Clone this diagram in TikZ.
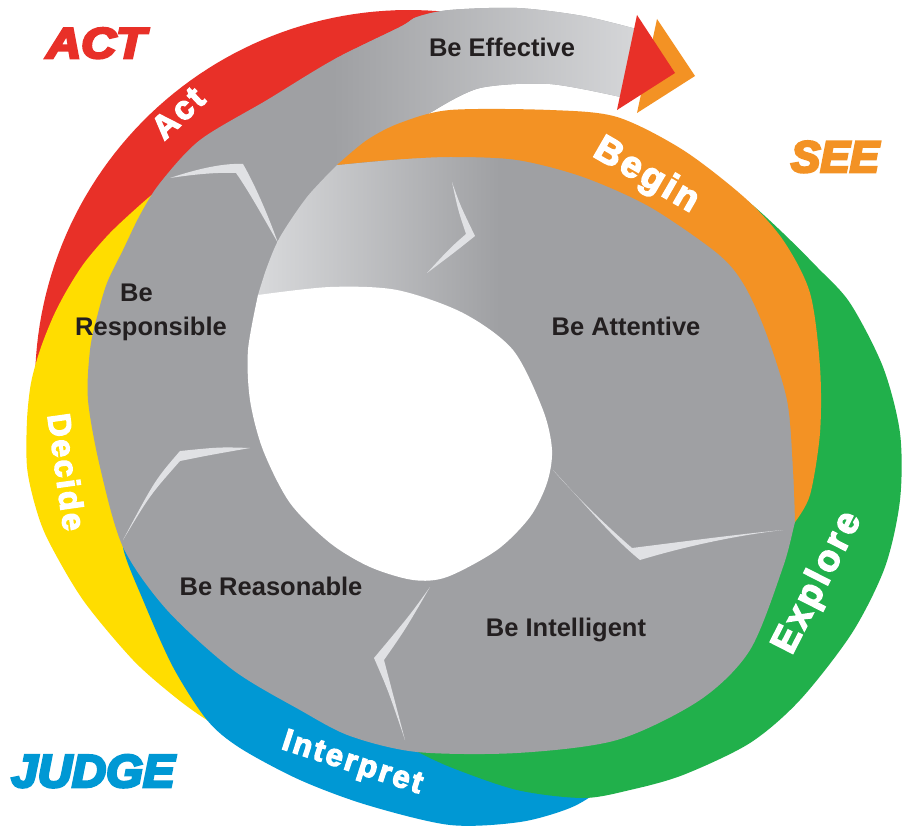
\documentclass[tikz,border=0pt]{standalone}
\usepackage{fontspec}
\usepackage{graphicx}
\setmainfont{Liberation Sans}
\newfontfamily\heavyfont[FakeBold=4,LetterSpace=8]{Liberation Sans Bold}
\newfontfamily\titlefont[FakeBold=6]{Liberation Sans Bold Italic}
\newfontfamily\lblfont{Liberation Sans Bold}
\definecolor{cred}{RGB}{232,48,40}
\definecolor{corange}{RGB}{243,146,36}
\definecolor{cyellow}{RGB}{255,221,0}
\definecolor{cgreen}{RGB}{33,176,75}
\definecolor{cblue}{RGB}{0,152,212}
\definecolor{cgray}{RGB}{159,160,163}
\definecolor{clight}{RGB}{228,229,231}
\definecolor{cmid}{RGB}{200,201,204}
\definecolor{ctail}{RGB}{216,217,219}
\definecolor{ctext}{RGB}{35,31,32}
\definecolor{cswoosh}{RGB}{224,225,228}
\tikzset{
  lbl/.style={text=ctext, font=\lblfont\fontsize{25.5}{30}\selectfont, inner sep=0pt},
  band/.style={text=white, font=\heavyfont\fontsize{#1}{#1}\selectfont, inner sep=0pt},
  ttl/.style={font=\titlefont\fontsize{#1}{#1}\selectfont, inner sep=0pt},
  swoosh/.style={fill=cswoosh},
}
\def\blobpath{plot[smooth] coordinates {(337,165) (400,144) (450,133) (545,137) (608,150) (672,182) (731,226) (763,262) (788,312) (803,383) (806,447) (802,497) (795,522) (783,567) (750,650) (700,700) (617,740) (517,753) (417,752) (350,736) (300,710) (233,670) (167,610) (123,547) (100,467) (88,400) (90,350) (97,317) (107,283) (123,250) (140,215) (160,183) (200,140) (267,100) (333,60) (400,27) (417,17) (450,10) (517,8) (583,16) (640,30)} -- (625,98) -- plot[smooth] coordinates {(625,98) (550,84) (480,88) (435,110)} -- cycle}
\begin{document}
\begin{tikzpicture}[x=1pt,y=-1pt]
\useasboundingbox (0,0) rectangle (905,834);
\fill[white] (0,0) rectangle (905,834);
% red band (Act)
\fill[cred] plot[domain=181:276, samples=60, variable=\t] ({409+374*cos(\t)}, {384+374*sin(\t)}) -- (300,150) -- (150,300) -- cycle;
% yellow band (Decide)
\fill[cyellow] plot[smooth] coordinates {(175,175) (140,205) (110,233) (85,262) (67,290) (53,317) (40,350) (31,383) (27,420) (27,467) (35,505) (48,540) (83,600) (133,660) (175,697) (207,720) (240,737)} -- (200,680) -- (150,450) -- (170,250) -- cycle;
% blue band (Interpret)
\fill[cblue] plot[smooth] coordinates {(130,515) (123,547) (143,600) (173,667) (207,720) (240,748) (300,780) (367,805) (450,825) (520,822) (570,808) (600,790) (620,770)} -- (450,700) -- (220,580) -- cycle;
% green band (Explore)
\fill[cgreen] plot[smooth] coordinates {(720,182) (750,203) (783,233) (817,267) (850,303) (883,367) (900,433) (900,500) (885,567) (852,633) (800,700) (750,743) (683,775) (630,790) (583,798) (517,790) (450,767) (410,748)} -- (500,600) -- (700,350) -- cycle;
% gray spiral
\fill[cgray] \blobpath;
\begin{scope}
  \clip \blobpath;
  \shade[left color=cgray, middle color=cmid, right color=clight] (333,0) -- (720,0) -- (720,105) -- (435,110) -- (337,165) -- cycle;
\end{scope}
% light inner tail
\shade[left color=ctail, right color=cgray] plot[smooth] coordinates {(258,295) (267,267) (280,237) (307,197) (337,165)} -- (500,150) -- (500,360) -- (258,360) -- cycle;
% orange band (Begin)
\fill[corange] plot[smooth] coordinates {(337,165) (367,140) (400,123) (450,110) (550,110) (617,117) (683,150) (745,198) (783,240) (810,293) (820,367) (820,433) (810,495) (795,522)} -- plot[smooth] coordinates {(795,522) (793,470) (787,400) (765,330) (743,283) (717,253) (650,207) (583,177) (517,160) (450,157) (390,160) (337,165)} -- cycle;
% hole
\fill[white] plot[smooth] coordinates {(258,295) (330,287) (397,290) (463,313) (513,350) (543,410) (552,450) (547,483) (530,517) (497,550) (447,577) (413,580) (370,567) (330,543) (290,503) (263,450) (250,400) (248,350) (258,295)} -- cycle;
% swooshes
\fill[swoosh] (170,178) .. controls (200,168) and (225,163) .. (243,164) .. controls (255,185) and (268,215) .. (278,243) .. controls (262,215) and (248,190) .. (236,173) .. controls (215,172) and (190,175) .. cycle;
\fill[swoosh] (452,182) .. controls (460,205) .. (475,236) .. controls (455,252) .. (427,273) .. controls (450,248) .. (466,234) .. controls (458,210) .. cycle;
\fill[swoosh] (553,470) .. controls (590,510) and (615,540) .. (640,560) .. controls (690,545) and (740,535) .. (783,530) .. controls (740,534) and (680,542) .. (632,548) .. controls (600,520) and (575,495) .. cycle;
\fill[swoosh] (430,587) .. controls (410,615) .. (374,658) .. controls (388,690) .. (405,740) .. controls (394,700) .. (384,660) .. controls (405,630) .. cycle;
\fill[swoosh] (250,448) .. controls (220,447) .. (180,451) .. controls (155,480) .. (123,540) .. controls (150,495) .. (180,461) .. controls (210,455) .. cycle;
% arrowheads
\fill[corange] (657,19) -- (695,76) -- (637,113) -- cycle;
\fill[cred] (637,15) -- (675,73) -- (617,110) -- cycle;
% black labels
\node[lbl, anchor=base] (be) at (502,57) {Be Effective};
\node[lbl, anchor=base] (ba) at (626,336) {Be Attentive};
\node[lbl, anchor=base] (bi) at (566,636) {Be Intelligent};
\node[lbl, anchor=base] (bre) at (271,595) {Be Reasonable};
\node[lbl, anchor=base west] (bres1) at (120,302) {Be};
\node[lbl, anchor=base west] (bres2) at (75,335) {Responsible};
% band labels
\node[band=33, rotate=43] (act) at (178,113) {Act};
\node[band=37, rotate=-30] (begin) at (646,176) {Begin};
\node[band=32, rotate=-82] (decide) at (67,472) {Decide};
\node[band=37, rotate=63] (explore) at (818,583) {Explore};
\node[band=31, rotate=-18] (interp) at (352,764) {Interpret};
% titles
\node[ttl=43, text=cred, anchor=base] (tact) at (96,58) {\scalebox{1.12}[1]{ACT}};
\node[ttl=44, text=corange, anchor=base] (tsee) at (835,172) {SEE};
\node[ttl=46, text=cblue, anchor=base] (tjudge) at (93,787) {\scalebox{1.03}[1]{JUDGE}};
\end{tikzpicture}
\end{document}
